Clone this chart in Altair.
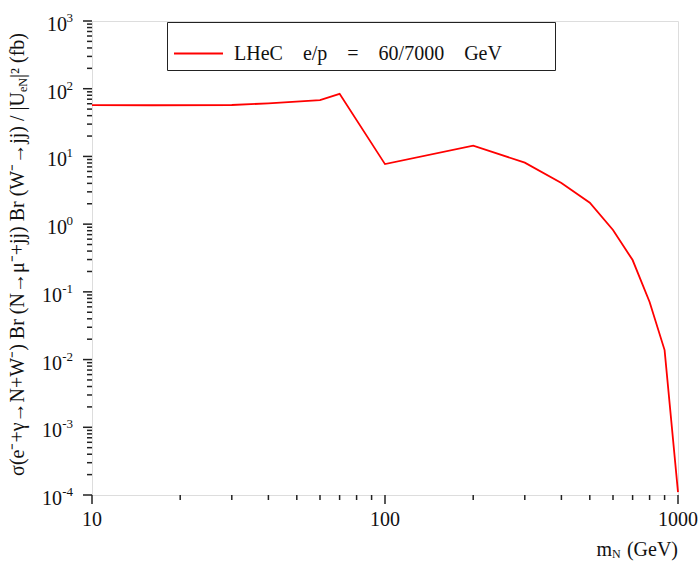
import altair as alt
import pandas as pd

# Heavy-neutrino signal at the LHeC (e/p = 60/7000 GeV)
mass_gev = [10, 16, 30, 40, 60, 70, 100, 200, 300, 400, 500, 600, 700, 800, 900, 1000]
sigma_fb = [57.4, 57.0, 57.5, 60.8, 68.0, 84.0, 7.7, 14.4, 8.1, 4.05, 2.07, 0.82, 0.295,
            0.071, 0.0138, 0.00011]
series_name = "LHeC\u2003e/p\u2003=\u200360/7000\u2003GeV"

# Axis ticks: decades are major, 2..9 within each decade are minor
x_major = [10, 100, 1000]
x_labels = ["10", "100", "1000"]
x_minor = [20, 30, 40, 50, 60, 70, 80, 90, 200, 300, 400, 500, 600, 700, 800, 900]
y_major = [1e-4, 1e-3, 1e-2, 1e-1, 1e0, 1e1, 1e2, 1e3]
y_exp = ["-4", "-3", "-2", "-1", "0", "1", "2", "3"]
y_minor = [m * 10.0 ** e for e in range(-4, 3) for m in range(2, 10)]

FONT = "Liberation Serif"
INK = "#111111"
AX = "#222222"
MAJOR_LEN, MINOR_LEN = 9, 5
W, H = 586, 474

df = pd.DataFrame({"mass": mass_gev, "sigma": sigma_fb, "series": series_name})
xlab = pd.DataFrame({"value": x_major, "text": x_labels})
ylab = pd.DataFrame({"value": y_major, "exp": y_exp})

xscale = alt.Scale(type="log", domain=[10, 1000], nice=False)
yscale = alt.Scale(type="log", domain=[1e-4, 1e3], nice=False)

line = alt.Chart(df).mark_line(strokeWidth=1.8).encode(
    x=alt.X("mass:Q", scale=xscale, axis=None),
    y=alt.Y("sigma:Q", scale=yscale, axis=None),
    color=alt.Color("series:N",
                    scale=alt.Scale(domain=[series_name], range=["#ff0000"]),
                    legend=alt.Legend(title=None, orient="none", legendX=75, legendY=1,
                                      symbolType="stroke", symbolSize=2401,
                                      symbolStrokeWidth=2, labelFont=FONT,
                                      labelFontSize=20, labelColor=INK, labelOffset=10,
                                      labelLimit=500, padding=6, strokeColor="#222222",
                                      fillColor="white",
                                      labelExpr="datum.label + '\u2003\u2003\u2004\u200b'")),
)


def xticks(values, length):
    return alt.Chart(pd.DataFrame({"v": values})).mark_rule(
        color=AX, strokeWidth=1.5
    ).encode(x=alt.X("v:Q", scale=xscale, axis=None),
             y=alt.value(H), y2=alt.value(H + length))


def yticks(values, length):
    return alt.Chart(pd.DataFrame({"v": values})).mark_rule(
        color=AX, strokeWidth=1.5
    ).encode(y=alt.Y("v:Q", scale=yscale, axis=None),
             x=alt.value(-length), x2=alt.value(0))


ticks = [xticks(x_major, MAJOR_LEN), xticks(x_minor, MINOR_LEN),
         yticks(y_major, MAJOR_LEN), yticks(y_minor, MINOR_LEN)]

# Tick labels on the x axis
xtext = alt.Chart(xlab).mark_text(
    align="center", baseline="middle", fontSize=20, font=FONT, color=INK
).encode(x=alt.X("value:Q", scale=xscale, axis=None), y=alt.value(H + 25),
         text="text:N")

# Power-of-ten tick labels on the y axis
ybase_pos = alt.Chart(ylab).transform_filter("datum.value >= 1").mark_text(
    align="right", baseline="middle", dy=4, fontSize=20, font=FONT, color=INK
).encode(y=alt.Y("value:Q", scale=yscale, axis=None), x=alt.value(-25),
         text=alt.value("10"))
ybase_neg = alt.Chart(ylab).transform_filter("datum.value < 1").mark_text(
    align="right", baseline="middle", dy=4, fontSize=20, font=FONT, color=INK
).encode(y=alt.Y("value:Q", scale=yscale, axis=None), x=alt.value(-30),
         text=alt.value("10"))
yexp = alt.Chart(ylab).mark_text(
    align="right", baseline="middle", dy=-3, fontSize=13, font=FONT, color=INK
).encode(y=alt.Y("value:Q", scale=yscale, axis=None), x=alt.value(-19),
         text="exp:N")


def label(text, x, y, size=20, align="left", angle=0):
    props = dict(align=align, baseline="middle", fontSize=size, font=FONT, color=INK)
    if angle:
        props["angle"] = angle
    return alt.Chart(pd.DataFrame({"t": [text]})).mark_text(**props).encode(
        x=alt.value(x), y=alt.value(y), text="t:N")


# y-axis title, written bottom to top
ytitle = [
    label("\u03c3(e\u207b+\u03b3\u2192N+W\u207b) Br (N\u2192\u03bc\u207b+jj) Br (W\u207b\u2192jj) / |U",
          -74, 71, align="right", angle=270),
    label("eN", -69, 71, size=12, align="left", angle=270),
    label("|\u00b2 (fb)", -74, 57, align="left", angle=270),
]

# x-axis title
xtitle = [
    label("m", 520, 529, align="right"),
    label("N", 520, 533, size=12, align="left"),
    label("(GeV)", 586, 529, align="right"),
]

chart = alt.layer(line, *ticks, xtext, ybase_pos, ybase_neg, yexp,
                  *ytitle, *xtitle).properties(
    width=W, height=H,
    autosize=alt.AutoSizeParams(type="none"),
    padding={"left": 92, "top": 21, "right": 20, "bottom": 66},
).configure_view(
    stroke=AX, strokeWidth=1.8
).configure(font=FONT)

chart.save("out.html", embed_options={"renderer": "svg", "actions": False})
